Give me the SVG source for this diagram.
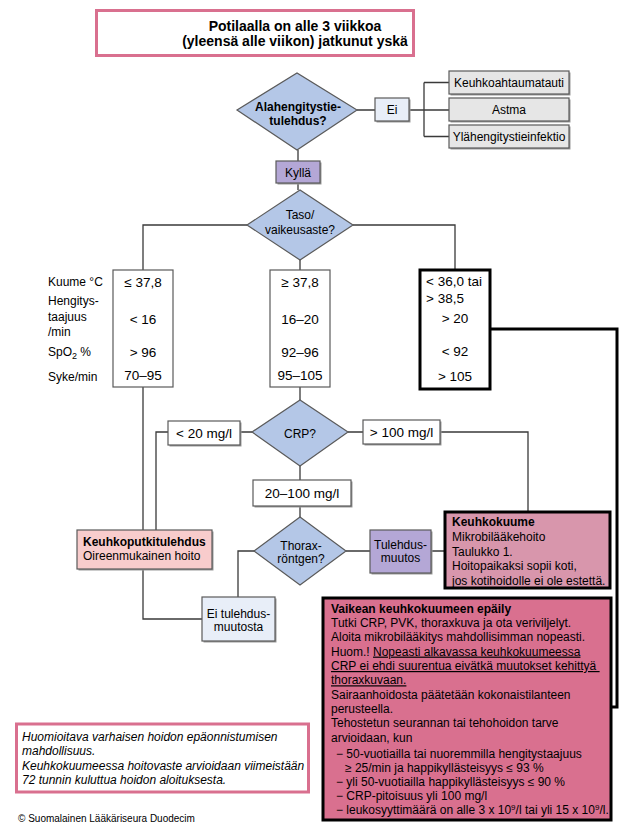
<svg xmlns="http://www.w3.org/2000/svg" width="632" height="835" viewBox="0 0 632 835">
<style>
.c{fill:none;stroke:#3a3a3a;stroke-width:1.3}
.ck{fill:none;stroke:#000;stroke-width:3}
.b{stroke:#5a5a5a;stroke-width:1.2}
.sh{fill:#9a9a9a}
.dm{fill:#b4c7e7;stroke:#5a5a5a;stroke-width:1.2}
.pk{fill:#fff;stroke:#d9708f;stroke-width:3}
.thick{stroke:#000;stroke-width:3}
text{font-family:"Liberation Sans",Arial,sans-serif;fill:#000;font-size:12px}
.v{font-size:13.5px}
.m{text-anchor:middle}
.bd{font-weight:bold}
.it{font-style:italic}
.u{text-decoration:underline}
</style>
<rect width="632" height="835" fill="#fff"/>

<g id="connectors">
<path class="c" d="M357,110H375M409,110H449M424,82.5V136.5M424,82.5H449M424,136.5H449"/>
<path class="c" d="M298,150V161M298,183V190"/>
<path class="c" d="M247,225H143V270M353,225H455V270M300,260V270"/>
<path class="c" d="M143,387V530M300,387V400"/>
<path class="c" d="M240,432H252M168,432H156V530"/>
<path class="c" d="M348,432H363M440,432H528V512"/>
<path class="c" d="M300,466V480M300,506V517"/>
<path class="c" d="M346,551H370M431,551H445M254,551H238V597M143,569V619H202"/>
<path class="ck" d="M490,329H617V707H611"/>
</g>

<g id="title">
<rect class="pk" x="96.5" y="10.5" width="317" height="45"/>
<text class="bd m" x="295" y="30.5" style="font-size:14px">Potilaalla on alle 3 viikkoa</text>
<text class="bd m" x="295" y="46" style="font-size:14px">(yleensä alle viikon) jatkunut yskä</text>
</g>

<g id="q-alahengitystie">
<polygon class="dm" points="237,110 297,73 357,110 297,150"/>
<text class="bd m" x="298" y="110.5">Alahengitystie-</text>
<text class="bd m" x="298" y="125">tulehdus?</text>
</g>

<g id="ei">
<rect class="sh" x="376.5" y="99.5" width="34" height="23"/>
<rect class="b" x="375" y="98" width="34" height="23" fill="#e8eef8"/>
<text class="m" x="392" y="114">Ei</text>
</g>

<g id="keuhkoahtaumatauti">
<rect class="sh" x="450.5" y="72.5" width="120" height="23"/>
<rect class="b" x="449" y="71" width="120" height="23" fill="#e6e6e6"/>
<text class="m" x="509" y="87">Keuhkoahtaumatauti</text>
</g>
<g id="astma">
<rect class="sh" x="450.5" y="99.5" width="120" height="23"/>
<rect class="b" x="449" y="98" width="120" height="23" fill="#e6e6e6"/>
<text class="m" x="509" y="114">Astma</text>
</g>
<g id="ylahengitystieinfektio">
<rect class="sh" x="450.5" y="126.5" width="120" height="23"/>
<rect class="b" x="449" y="125" width="120" height="23" fill="#e6e6e6"/>
<text class="m" x="509" y="141">Ylähengitystieinfektio</text>
</g>

<g id="kylla">
<rect class="sh" x="277.5" y="162.5" width="44" height="22"/>
<rect class="b" x="276" y="161" width="44" height="22" fill="#b4a7d6"/>
<text class="m" x="298" y="176.5">Kyllä</text>
</g>

<g id="q-taso">
<polygon class="dm" points="247,225 300,190 353,225 300,260"/>
<text class="m" x="300" y="219">Taso/</text>
<text class="m" x="300" y="234">vaikeusaste?</text>
</g>

<g id="labels">
<text x="48" y="286">Kuume °C</text>
<text x="48" y="304.5">Hengitys-</text>
<text x="48" y="321">taajuus</text>
<text x="48" y="336">/min</text>
<text x="48" y="356">SpO<tspan dy="3" style="font-size:9px">2</tspan><tspan dy="-3"> %</tspan></text>
<text x="48" y="381">Syke/min</text>
</g>

<g id="taso-lieva">
<rect class="b" x="113" y="270" width="60" height="117" fill="#fff"/>
<text class="v m" x="143" y="286.5">≤ 37,8</text>
<text class="v m" x="143" y="324">&lt; 16</text>
<text class="v m" x="143" y="356.5">&gt; 96</text>
<text class="v m" x="143" y="380">70–95</text>
</g>

<g id="taso-keski">
<rect class="b" x="270" y="270" width="60" height="117" fill="#fff"/>
<text class="v m" x="300" y="286.5">≥ 37,8</text>
<text class="v m" x="300" y="324">16–20</text>
<text class="v m" x="300" y="356.5">92–96</text>
<text class="v m" x="300" y="380">95–105</text>
</g>

<g id="taso-vaikea">
<rect class="thick" x="420" y="270" width="70" height="119" fill="#fff"/>
<text class="v" x="426" y="285.5">&lt; 36,0 tai</text>
<text class="v" x="426" y="302.5">&gt; 38,5</text>
<text class="v m" x="455" y="323">&gt; 20</text>
<text class="v m" x="455" y="355.5">&lt; 92</text>
<text class="v m" x="455" y="380.5">&gt; 105</text>
</g>

<g id="q-crp">
<polygon class="dm" points="252,432 300,400 348,432 300,466"/>
<text class="m" x="300" y="437.5">CRP?</text>
</g>

<g id="crp-alle-20">
<rect class="sh" x="169.5" y="422.5" width="72" height="24"/>
<rect class="b" x="168" y="421" width="72" height="24" fill="#fff"/>
<text class="v m" x="204" y="437.5">&lt; 20 mg/l</text>
</g>

<g id="crp-yli-100">
<rect class="sh" x="364.5" y="421.5" width="77" height="24"/>
<rect class="b" x="363" y="420" width="77" height="24" fill="#fff"/>
<text class="v m" x="401.5" y="437">&gt; 100 mg/l</text>
</g>

<g id="crp-20-100">
<rect class="sh" x="254.5" y="481.5" width="98" height="26"/>
<rect class="b" x="253" y="480" width="98" height="26" fill="#fff"/>
<text class="v m" x="302" y="497.5">20–100 mg/l</text>
</g>

<g id="q-thorax">
<polygon class="dm" points="254,551 300,517 346,551 300,585"/>
<text class="m" x="301" y="549.5">Thorax-</text>
<text class="m" x="301" y="563">röntgen?</text>
</g>

<g id="keuhkoputkitulehdus">
<rect class="sh" x="78.5" y="531.5" width="135" height="39"/>
<rect class="b" x="77" y="530" width="135" height="39" fill="#f8cccc"/>
<text class="bd" x="83" y="546">Keuhkoputkitulehdus</text>
<text x="83" y="560">Oireenmukainen hoito</text>
</g>

<g id="ei-tulehdusmuutosta">
<rect class="sh" x="203.5" y="598.5" width="73" height="44"/>
<rect class="b" x="202" y="597" width="73" height="44" fill="#e8eef8"/>
<text class="m" x="238.5" y="617.5">Ei tulehdus-</text>
<text class="m" x="238.5" y="631">muutosta</text>
</g>

<g id="tulehdusmuutos">
<rect class="sh" x="371.5" y="531.5" width="61" height="43"/>
<rect class="b" x="370" y="530" width="61" height="43" fill="#b4a7d6"/>
<text class="m" x="400.5" y="548.5">Tulehdus-</text>
<text class="m" x="400.5" y="562">muutos</text>
</g>

<g id="keuhkokuume">
<rect class="thick" x="445" y="512" width="165" height="76" fill="#d896ac"/>
<text class="bd" x="452" y="526">Keuhkokuume</text>
<text x="452" y="541">Mikrobilääkehoito</text>
<text x="452" y="555.5">Taulukko 1.</text>
<text x="452" y="570">Hoitopaikaksi sopii koti,</text>
<text x="452" y="584.5">jos kotihoidolle ei ole estettä.</text>
</g>

<g id="vaikea-keuhkokuume">
<rect class="thick" x="323" y="598" width="288" height="222" fill="#d9708f"/>
<text class="bd" x="331" y="612.5">Vaikean keuhkokuumeen epäily</text>
<text x="331" y="627">Tutki CRP, PVK, thoraxkuva ja ota veriviljelyt.</text>
<text x="331" y="641.3">Aloita mikrobilääkitys mahdollisimman nopeasti.</text>
<text x="331" y="655.6">Huom.! <tspan class="u">Nopeasti alkavassa keuhkokuumeessa </tspan></text>
<text x="331" y="670" class="u" xml:space="preserve">CRP ei ehdi suurentua eivätkä muutokset kehittyä </text>
<text x="331" y="684.3" class="u">thoraxkuvaan.</text>
<text x="331" y="698.6">Sairaanhoidosta päätetään kokonaistilanteen</text>
<text x="331" y="713">perusteella.</text>
<text x="331" y="727.3">Tehostetun seurannan tai tehohoidon tarve</text>
<text x="331" y="741.7">arvioidaan, kun</text>
<text x="336" y="757.5">− 50-vuotiailla tai nuoremmilla hengitystaajuus</text>
<text x="345" y="771.5">≥ 25/min ja happikyllästeisyys ≤ 93 %</text>
<text x="336" y="785.8">− yli 50-vuotiailla happikyllästeisyys ≤ 90 %</text>
<text x="336" y="800">− CRP-pitoisuus yli 100 mg/l</text>
<text x="336" y="814.3">− leukosyyttimäärä on alle 3 x 10<tspan dy="-4" style="font-size:8px">9</tspan><tspan dy="4">/l tai yli 15 x 10</tspan><tspan dy="-4" style="font-size:8px">9</tspan><tspan dy="4">/l.</tspan></text>
</g>

<g id="huomio">
<rect class="pk" x="16.5" y="724" width="292" height="68"/>
<text class="it" x="22" y="741">Huomioitava varhaisen hoidon epäonnistumisen</text>
<text class="it" x="22" y="755">mahdollisuus.</text>
<text class="it" x="22" y="770">Keuhkokuumeessa hoitovaste arvioidaan viimeistään</text>
<text class="it" x="22" y="783.5">72 tunnin kuluttua hoidon aloituksesta.</text>
</g>

<g id="copyright">
<text x="18" y="821.5" style="font-size:10px">© Suomalainen Lääkäriseura Duodecim</text>
</g>
</svg>
